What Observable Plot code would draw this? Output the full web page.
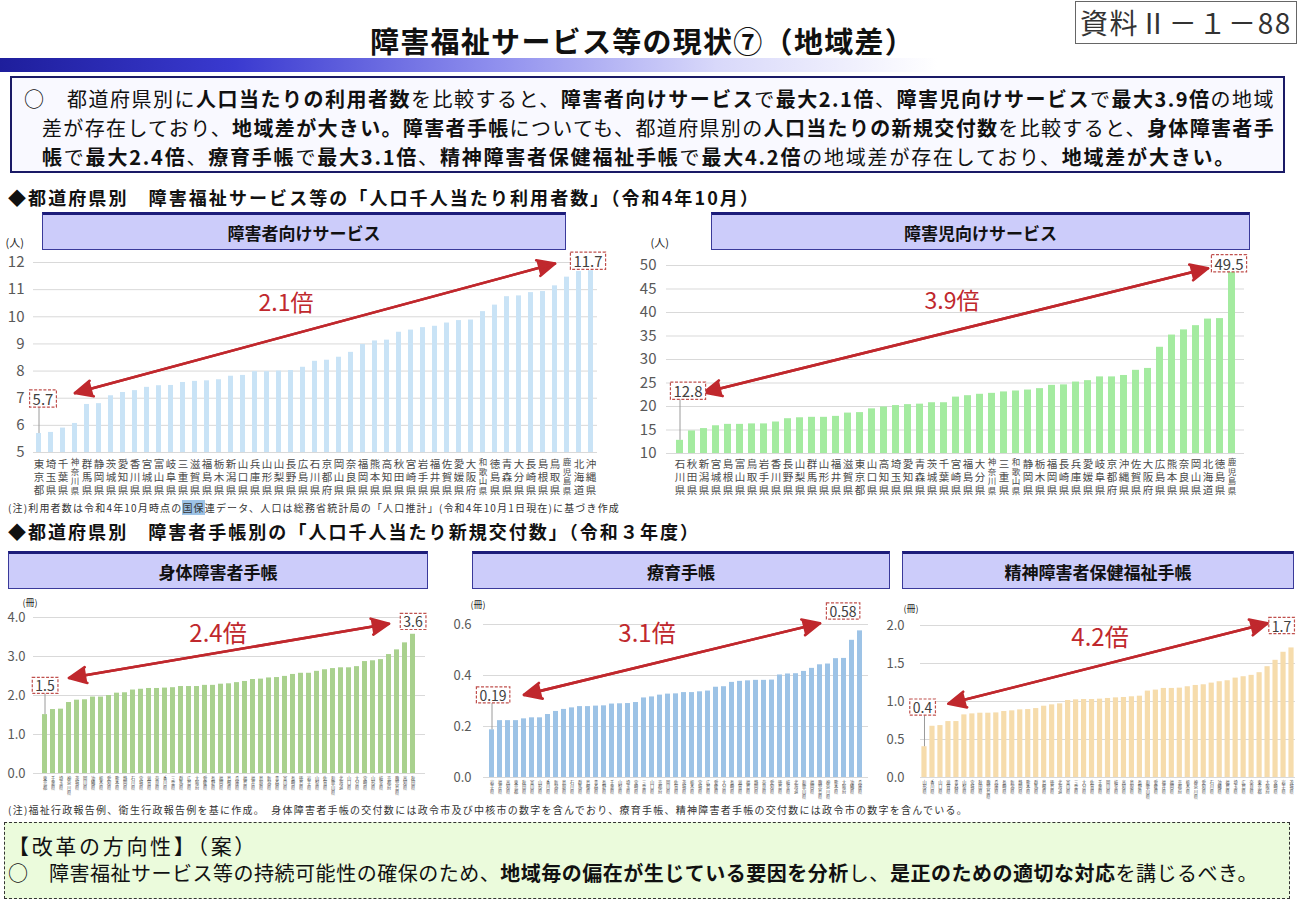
<!DOCTYPE html>
<html lang="ja"><head><meta charset="utf-8">
<script src="https://cdn.jsdelivr.net/npm/d3@7"></script>
<script src="https://cdn.jsdelivr.net/npm/@observablehq/plot@0.6"></script>
<style>
html,body{margin:0;padding:0;background:#fff;}
body{width:1302px;height:906px;position:relative;overflow:hidden;font-family:"Noto Sans CJK JP","Noto Sans",sans-serif;color:#111;}
.abs{position:absolute;white-space:nowrap;}
.fit{display:inline-block;}
.panel{position:absolute;box-sizing:border-box;background:#ccccfa;border:1px solid #3a3a9a;border-top:3px solid #1c1c7a;display:flex;align-items:center;justify-content:center;font-weight:700;font-size:17px;color:#111;}
.chart{position:absolute;}
.chart svg{overflow:visible;background:transparent;}
b{font-weight:700;}
</style></head><body>

<div class="abs" style="left:1075px;top:1px;width:222px;height:43px;box-sizing:border-box;border:1px solid #666;"></div>
<div class="abs fit" data-w="212" style="left:1080px;top:3px;font-size:28px;line-height:38px;color:#333;">資料Ⅱ－１－88</div>
<div class="abs fit" data-w="545" style="left:370px;top:20px;font-size:29px;line-height:40px;font-weight:700;">障害福祉サービス等の現状⑦（地域差）</div>
<div class="abs" style="left:0;top:58px;width:1302px;height:14px;background:linear-gradient(to right,#1e1e9c 0%,#3a3ad0 18%,#8f8fee 38%,#d8d8fa 55%,#ffffff 72%);"></div>

<div class="abs" style="left:10px;top:76px;width:1275px;height:97px;box-sizing:border-box;border:2px solid #1a1a66;background:#f9f9ff;"></div>
<div class="abs fit" data-w="1251" style="left:24px;top:86px;font-size:20px;line-height:26px;">○　都道府県別に<b>人口当たりの利用者数</b>を比較すると、<b>障害者向けサービス</b>で<b>最大2.1倍</b>、<b>障害児向けサービス</b>で<b>最大3.9倍</b>の地域</div>
<div class="abs fit" data-w="1233" style="left:42px;top:115px;font-size:20px;line-height:26px;">差が存在しており、<b>地域差が大きい。障害者手帳</b>についても、都道府県別の<b>人口当たりの新規交付数</b>を比較すると、<b>身体障害者手</b></div>
<div class="abs fit" data-w="1194" style="left:42px;top:144px;font-size:20px;line-height:26px;"><b>帳</b>で<b>最大2.4倍</b>、<b>療育手帳</b>で<b>最大3.1倍</b>、<b>精神障害者保健福祉手帳</b>で<b>最大4.2倍</b>の地域差が存在しており、<b>地域差が大きい。</b></div>

<div class="abs fit" data-w="752" style="left:8px;top:185px;font-size:18px;line-height:24px;font-weight:700;">◆都道府県別　障害福祉サービス等の「人口千人当たり利用者数」（令和4年10月）</div>

<div id="c1" class="chart" style="left:0;top:240px;"></div>
<div id="c2" class="chart" style="left:620px;top:240px;"></div>

<div class="abs fit" data-w="612" style="left:8px;top:501px;font-size:10px;line-height:14px;color:#333;">(注)利用者数は令和4年10月時点の<span style="background:#9dc3e6">国保</span>連データ、人口は総務省統計局の「人口推計」(令和4年10月1日現在)に基づき作成</div>

<div class="abs fit" data-w="692" style="left:8px;top:519px;font-size:18px;line-height:24px;font-weight:700;">◆都道府県別　障害者手帳別の「人口千人当たり新規交付数」（令和３年度）</div>

<div id="c3" class="chart" style="left:0;top:595px;"></div>
<div id="c4" class="chart" style="left:440px;top:595px;"></div>
<div id="c5" class="chart" style="left:880px;top:595px;"></div>

<div class="panel" style="left:42px;top:212px;width:524px;height:38px;">障害者向けサービス</div>
<div class="panel" style="left:711px;top:212px;width:539px;height:38px;">障害児向けサービス</div>
<div class="panel" style="left:8px;top:551px;width:420px;height:38px;">身体障害者手帳</div>
<div class="panel" style="left:472px;top:551px;width:418px;height:38px;">療育手帳</div>
<div class="panel" style="left:902px;top:551px;width:392px;height:38px;">精神障害者保健福祉手帳</div>

<div class="abs fit" data-w="960" style="left:8px;top:803px;font-size:10px;line-height:14px;color:#333;">(注)福祉行政報告例、衛生行政報告例を基に作成。　身体障害者手帳の交付数には政令市及び中核市の数字を含んでおり、療育手帳、精神障害者手帳の交付数には政令市の数字を含んでいる。</div>

<div class="abs" style="left:4px;top:822px;width:1286px;height:77px;box-sizing:border-box;border:1px dashed #333;background:#ebfbdc;"></div>
<div class="abs fit" data-w="250" style="left:8px;top:832px;font-size:21px;line-height:26px;">【改革の方向性】（案）</div>
<div class="abs fit" data-w="1250" style="left:8px;top:860px;font-size:20px;line-height:26px;">○　障害福祉サービス等の持続可能性の確保のため、<b>地域毎の偏在が生じている要因を分析</b>し、<b>是正のための適切な対応</b>を講じるべき。</div>

<script>
// ---------- data ----------
const adultNames = ["東京都","埼玉県","千葉県","神奈川県","群馬県","静岡県","茨城県","愛知県","香川県","宮城県","富山県","岐阜県","三重県","滋賀県","福島県","栃木県","新潟県","山口県","兵庫県","山形県","山梨県","長野県","広島県","石川県","京都府","岡山県","奈良県","福岡県","熊本県","高知県","秋田県","宮崎県","岩手県","福井県","佐賀県","愛媛県","大阪府","和歌山県","徳島県","青森県","大分県","長崎県","島根県","鳥取県","鹿児島県","北海道","沖縄県"];
const adultValues = [5.7,5.74,5.9,6.07,6.77,6.8,7.09,7.21,7.28,7.4,7.46,7.47,7.58,7.62,7.64,7.68,7.81,7.84,7.98,7.98,8.0,8.02,8.14,8.36,8.4,8.51,8.69,8.98,9.11,9.14,9.43,9.51,9.6,9.65,9.77,9.86,9.88,10.19,10.43,10.74,10.77,10.89,10.93,11.14,11.46,11.67,11.7];

const childNames = ["石川県","秋田県","新潟県","宮城県","島根県","富山県","鳥取県","岩手県","香川県","長野県","山梨県","群馬県","山形県","福井県","滋賀県","東京都","山口県","高知県","埼玉県","愛知県","青森県","茨城県","千葉県","宮崎県","福島県","大分県","神奈川県","三重県","和歌山県","静岡県","栃木県","福岡県","長崎県","兵庫県","愛媛県","岐阜県","京都府","沖縄県","佐賀県","大阪府","広島県","熊本県","奈良県","岡山県","北海道","徳島県","鹿児島県"];
const childValues = [12.8,14.8,15.3,15.9,16.2,16.2,16.3,16.3,16.7,17.4,17.6,17.7,17.7,17.9,18.6,18.7,19.5,19.9,20.2,20.4,20.5,20.8,20.8,22.0,22.3,22.6,22.8,23.1,23.3,23.5,23.8,24.5,24.6,25.2,25.5,26.3,26.3,26.6,27.7,28.1,32.6,35.2,36.3,37.2,38.6,38.7,49.5];

const physicalNames = ["東京都","千葉県","埼玉県","神奈川県","茨城県","岡山県","沖縄県","栃木県","愛知県","熊本県","静岡県","石川県","宮城県","滋賀県","奈良県","香川県","三重県","群馬県","広島県","大阪府","愛媛県","長野県","福岡県","島根県","兵庫県","福島県","福井県","鳥取県","新潟県","青森県","富山県","長崎県","徳島県","岩手県","山梨県","佐賀県","和歌山県","北海道","山口県","大分県","宮崎県","山形県","岐阜県","京都府","鹿児島県","高知県","秋田県"];
const physicalValues = [1.51,1.64,1.65,1.82,1.88,1.89,1.96,1.96,2.0,2.06,2.07,2.14,2.16,2.18,2.18,2.19,2.2,2.23,2.23,2.23,2.26,2.26,2.29,2.3,2.33,2.36,2.41,2.42,2.45,2.46,2.49,2.54,2.57,2.57,2.62,2.66,2.69,2.71,2.71,2.74,2.87,2.89,2.92,3.05,3.17,3.35,3.57];

const ryoikuNames = ["岩手県","福井県","高知県","東京都","秋田県","富山県","山形県","香川県","新潟県","鳥取県","石川県","群馬県","島根県","青森県","長野県","千葉県","山梨県","埼玉県","宮崎県","三重県","山口県","京都府","岡山県","佐賀県","茨城県","栃木県","宮城県","広島県","愛媛県","大分県","長崎県","滋賀県","福島県","静岡県","奈良県","愛知県","徳島県","岐阜県","北海道","和歌山県","福岡県","鹿児島県","神奈川県","熊本県","大阪府","沖縄県","兵庫県"];
const ryoikuValues = [0.187,0.223,0.223,0.223,0.23,0.234,0.234,0.247,0.259,0.267,0.273,0.278,0.278,0.28,0.281,0.288,0.289,0.29,0.294,0.312,0.316,0.323,0.327,0.328,0.333,0.333,0.336,0.339,0.354,0.356,0.373,0.377,0.379,0.381,0.381,0.382,0.402,0.406,0.407,0.416,0.428,0.442,0.445,0.466,0.467,0.538,0.575];

const mentalNames = ["山形県","香川県","山口県","滋賀県","青森県","山梨県","宮城県","秋田県","鹿児島県","兵庫県","長崎県","新潟県","静岡県","熊本県","群馬県","島根県","徳島県","北海道","富山県","三重県","大分県","佐賀県","千葉県","岡山県","岐阜県","高知県","鳥取県","長野県","和歌山県","愛媛県","福井県","福岡県","京都府","栃木県","神奈川県","愛知県","石川県","沖縄県","福島県","埼玉県","広島県","奈良県","東京都","大阪府","宮崎県","岩手県","茨城県"];
const mentalValues = [0.405,0.674,0.683,0.736,0.736,0.824,0.837,0.846,0.846,0.85,0.868,0.877,0.89,0.894,0.907,0.938,0.956,0.969,1.013,1.022,1.026,1.026,1.031,1.04,1.048,1.053,1.062,1.07,1.137,1.15,1.172,1.172,1.176,1.194,1.211,1.22,1.242,1.26,1.273,1.308,1.326,1.344,1.379,1.458,1.542,1.648,1.705];

const adultTicks = [5,6,7,8,9,10,11,12];
const childTicks = [10,15,20,25,30,35,40,45,50];
const physicalTicks = [0,1,2,3,4];
const ryoikuTicks = [0,0.2,0.4,0.6];
const mentalTicks = [0,0.5,1,1.5,2];

const ratioLabels = ["2.1倍","3.9倍","2.4倍","3.1倍","4.2倍"];
const minLabels = ["5.7","12.8","1.5","0.19","0.4"];
const maxLabels = ["11.7","49.5","3.6","0.58","1.7"];
const unitLabels = ["(人)","(人)","(冊)","(冊)","(冊)"];

// ---------- chart settings ----------
const FONT = '"Noto Sans CJK JP","Noto Sans",sans-serif';
const RED = "#c0282d";
const BOXTEXT = "#404040";

const charts = [
  {el:"#c1", names:adultNames, values:adultValues, ticks:adultTicks, domain:[5,12], fmt:d=>String(d), color:"#c9e3f6", pad:0.58,
   L:{width:610,height:264,mL:33,mR:13,mT:22,mB:52,yPad:9,yFont:15,xPad:6,xFont:10.5,xLine:1.24,xFontLong:8.5,xLineLong:1.12,boxFont:15,ratioFont:23,unitDx:-28,unitDy:-23,unitFont:11},
   ann:{from:[3,7.19],to:[43,11.96],ratio:[21,10.48,-5],min:[6.93,4],max:[12.0,-3]}},
  {el:"#c2", names:childNames, values:childValues, ticks:childTicks, domain:[10,50], fmt:d=>String(d), color:"#a4eba0", pad:0.45,
   L:{width:670,height:264,mL:46,mR:46,mT:25,mB:51,yPad:10,yFont:15,xPad:5,xFont:10.5,xLine:1.24,xFontLong:8.5,xLineLong:1.12,boxFont:15,ratioFont:23,unitDx:-16,unitDy:-26,unitFont:11},
   ann:{from:[2,23.0],to:[44,49.4],ratio:[23,42.3,-4],min:[23.0,8],max:[50.1,-3]}},
  {el:"#c3", names:physicalNames, values:physicalValues, ticks:physicalTicks, domain:[0,4], fmt:d3.format(".1f"), color:"#a9d18e", pad:0.35,
   L:{width:440,height:210,mL:33,mR:15,mT:22,mB:32,yPad:8,yFont:13,xPad:3,xFont:4.2,xLine:1.1,xFontLong:4.2,xLineLong:1.1,boxFont:14,ratioFont:24,unitDx:-11,unitDy:-18,unitFont:9},
   ann:{from:[3,2.45],to:[43,3.84],ratio:[22,3.58,-3],min:[2.22,0],max:[3.86,0]}},
  {el:"#c4", names:ryoikuNames, values:ryoikuValues, ticks:ryoikuTicks, domain:[0,0.6], fmt:d3.format(".1f"), color:"#9dc3e6", pad:0.35,
   L:{width:440,height:210,mL:43,mR:12,mT:29,mB:28,yPad:12,yFont:13,xPad:3,xFont:4.2,xLine:1.1,xFontLong:4.2,xLineLong:1.1,boxFont:14,ratioFont:24,unitDx:-13,unitDy:-23,unitFont:9},
   ann:{from:[4,0.324],to:[41,0.605],ratio:[19,0.563,3],min:[0.318,1],max:[0.647,-17]}},
  {el:"#c5", names:mentalNames, values:mentalValues, ticks:mentalTicks, domain:[0,2], fmt:d3.format(".1f"), color:"#f6dcac", pad:0.35,
   L:{width:422,height:210,mL:40,mR:7,mT:30,mB:28,yPad:16,yFont:13,xPad:3,xFont:4.2,xLine:1.1,xFontLong:4.2,xLineLong:1.1,boxFont:14,ratioFont:24,unitDx:-17,unitDy:-20,unitFont:9},
   ann:{from:[3,0.97],to:[43,2.03],ratio:[22,1.83,0],min:[0.907,-2],max:[1.98,-10]}}
];

function drawChart(c, i) {
  const rows = c.names.map((name, k) => ({name, value: c.values[k]}));
  const firstRow = rows[0], lastRow = rows[rows.length - 1];
  const stack = s => Array.from(s).join("\n");
  const shortNames = c.names.filter(n => n.length <= 3);
  const longNames = c.names.filter(n => n.length > 3);
  const a = c.ann, L = c.L;
  const arrowRow = {xa: c.names[a.from[0]], ya: a.from[1], xb: c.names[a.to[0]], yb: a.to[1]};
  const base = c.domain[0];
  const arrowStyle = {stroke: RED, fill: RED, strokeWidth: 2.6, headLength: 11, headAngle: 50};
  const marks = [
    Plot.gridY(c.ticks, {stroke: "#d9d9d9", strokeOpacity: 1}),
    Plot.barY(rows, {x: "name", y1: () => base, y2: "value", fill: c.color}),
    Plot.axisY(c.ticks, {tickSize: 0, tickPadding: L.yPad, tickFormat: c.fmt, fontSize: L.yFont, color: "#595959", label: null}),
    Plot.axisX(shortNames, {tickSize: 0, tickPadding: L.xPad, tickFormat: stack, fontSize: L.xFont, lineHeight: L.xLine, color: "#4a4a4a", label: null}),
    Plot.ruleX([firstRow], {x: "name", y1: "value", y2: () => a.min[0], stroke: "#9a9a9a", strokeWidth: 1}),
    Plot.arrow([arrowRow], {x1: "xa", y1: "ya", x2: "xb", y2: "yb", ...arrowStyle}),
    Plot.arrow([arrowRow], {x1: "xb", y1: "yb", x2: "xa", y2: "ya", ...arrowStyle}),
    Plot.text([{name: c.names[a.ratio[0]], y: a.ratio[1], label: ratioLabels[i]}], {x: "name", y: "y", text: "label", dx: a.ratio[2], fill: RED, fontSize: L.ratioFont, fontFamily: FONT}),
    Plot.text([{name: firstRow.name, y: a.min[0], label: minLabels[i]}], {x: "name", y: "y", text: "label", dx: a.min[1], fill: BOXTEXT, fontSize: L.boxFont, fontFamily: FONT}),
    Plot.text([{name: lastRow.name, y: a.max[0], label: maxLabels[i]}], {x: "name", y: "y", text: "label", dx: a.max[1], fill: BOXTEXT, fontSize: L.boxFont, fontFamily: FONT}),
    Plot.text([unitLabels[i]], {frameAnchor: "top-left", textAnchor: "start", lineAnchor: "top", dx: L.unitDx, dy: L.unitDy, fontSize: L.unitFont, fill: "#222", fontFamily: FONT})
  ];
  if (longNames.length) marks.splice(4, 0, Plot.axisX(longNames, {tickSize: 0, tickPadding: L.xPad, tickFormat: stack, fontSize: L.xFontLong, lineHeight: L.xLineLong, color: "#4a4a4a", label: null}));
  const svg = Plot.plot({
    width: L.width, height: L.height,
    marginLeft: L.mL, marginRight: L.mR, marginTop: L.mT, marginBottom: L.mB,
    style: {fontFamily: FONT, background: "transparent", overflow: "visible"},
    x: {type: "band", domain: c.names, paddingInner: c.pad, paddingOuter: c.pad / 2, label: null},
    y: {domain: c.domain, label: null},
    marks
  });
  document.querySelector(c.el).appendChild(svg);
  // solid arrow heads
  svg.querySelectorAll('g[stroke="' + RED + '"] path').forEach(p => p.setAttribute("fill", RED));
  // dashed boxes around min / max value labels
  svg.querySelectorAll('g[fill="' + BOXTEXT + '"] text').forEach(t => {
    const b = t.getBBox();
    const fs = L.boxFont;
    const h = fs * 1.15, w = b.width + 6;
    const cy = b.y + b.height / 2;
    const r = document.createElementNS("http://www.w3.org/2000/svg", "rect");
    r.setAttribute("x", b.x - 3);
    r.setAttribute("y", cy - h / 2);
    r.setAttribute("width", w);
    r.setAttribute("height", h);
    r.setAttribute("fill", "#ffffff");
    r.setAttribute("stroke", "#c0504d");
    r.setAttribute("stroke-width", "1.2");
    r.setAttribute("stroke-dasharray", "3,1.6");
    if (t.getAttribute("transform")) r.setAttribute("transform", t.getAttribute("transform"));
    t.parentNode.insertBefore(r, t);
  });
}

charts.forEach(drawChart);

// fit html text lines to the widths they occupy on the slide
document.querySelectorAll(".fit").forEach(el => {
  const target = +el.dataset.w;
  const w = el.getBoundingClientRect().width;
  const n = Array.from(el.textContent).length;
  if (n > 1 && target) el.style.letterSpacing = ((target - w) / n) + "px";
});
</script>
</body></html>
